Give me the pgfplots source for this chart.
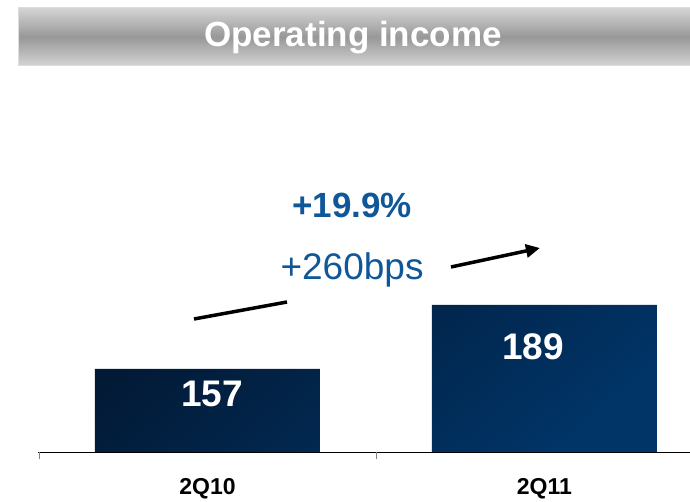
\documentclass[border=0pt]{standalone}
\usepackage{pgfplots}
\pgfplotsset{compat=1.18}
\usepackage{fontspec}
\setmainfont{Liberation Sans}
\usetikzlibrary{arrows.meta}
\definecolor{navyA}{HTML}{021A36}
\definecolor{navyB}{HTML}{013467}
\definecolor{txtblue}{HTML}{10579A}
\definecolor{bandL}{HTML}{D4D4D4}
\definecolor{bandD}{HTML}{989898}
\begin{document}
\begin{tikzpicture}[x=1pt,y=1pt]
\path[use as bounding box] (0,0) rectangle (690,502);
% title banner
\shade[top color=bandL, bottom color=bandL, middle color=bandD] (18,436) rectangle (690,494);
\draw[bandL!80!white, line width=1pt] (18,436) rectangle (692,494);
\node[text=white, font=\fontsize{35}{38}\selectfont\bfseries] at (353,464) {Operating income};
\begin{axis}[
  at={(38pt,50pt)}, anchor=south west,
  scale only axis, width=652pt, height=372pt,
  xmin=-0.503, xmax=1.432, ymin=115.5, ymax=301.5,
  hide y axis,
  axis x line*=bottom,
  x axis line style={black, line width=0.8pt},
  xtick={0,1}, xticklabels={2Q10,2Q11},
  major tick length=0pt,
  xticklabel style={anchor=base, yshift=-43pt, font=\fontsize{23}{26}\selectfont\bfseries},
  extra x ticks={-0.5,0.5}, extra x tick labels={},
  extra x tick style={major tick length=7pt, tick align=outside, tick style={gray, line width=0.7pt}},
  clip=false,
]
\addplot[ybar, bar width=225pt, draw=none, top color=navyA, bottom color=navyB, shading angle=40]
  coordinates {(0,157) (1,189)};
\node[text=white, font=\fontsize{37}{40}\selectfont\bfseries] at (axis cs:0.013,144.5) {157};
\node[text=white, font=\fontsize{37}{40}\selectfont\bfseries] at (axis cs:0.966,168) {189};
\node[text=txtblue, font=\fontsize{35}{38}\selectfont\bfseries] at (axis cs:0.429,239) {+19.9\%};
\node[text=txtblue, font=\fontsize{37}{40}\selectfont] at (axis cs:0.429,206.5) {+260bps};
\draw[black, line width=3.5pt] (axis cs:-0.040,182) -- (axis cs:0.236,190.5);
\draw[black, line width=3.5pt, -{Triangle[length=14pt,width=13pt]}] (axis cs:0.7226,208) -- (axis cs:0.9866,217.5);
\end{axis}
\end{tikzpicture}
\end{document}
